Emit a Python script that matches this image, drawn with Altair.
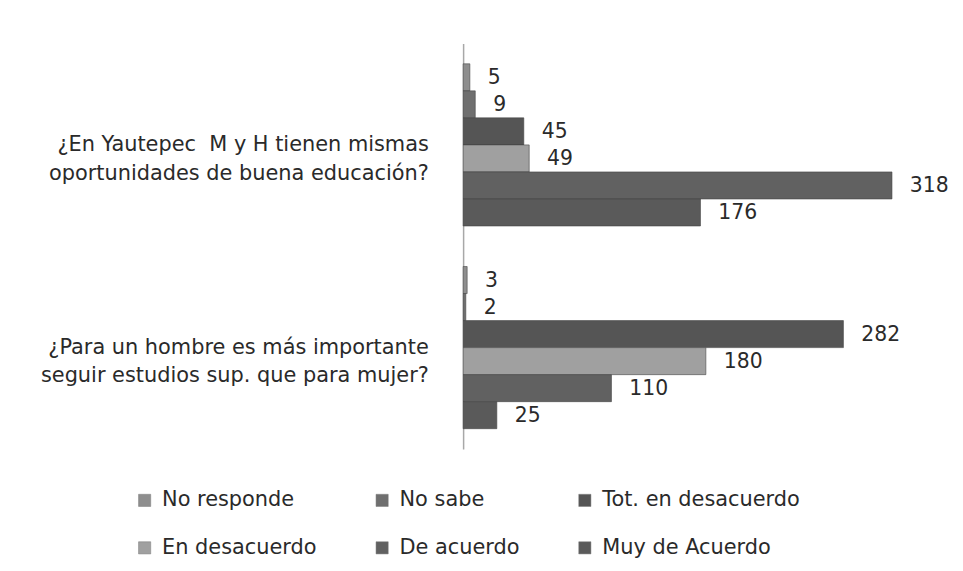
import altair as alt
import pandas as pd

questions = [
    "¿En Yautepec\u00a0 M y H tienen mismas\noportunidades de buena educación?",
    "¿Para un hombre es más importante\nseguir estudios sup. que para mujer?",
]
series = ["No responde", "No sabe", "Tot. en desacuerdo",
          "En desacuerdo", "De acuerdo", "Muy de Acuerdo"]
values_q1 = [5, 9, 45, 49, 318, 176]
values_q2 = [3, 2, 282, 180, 110, 25]
colors = ["#8e8e8e", "#6f6f6f", "#555555", "#a0a0a0", "#616161", "#5a5a5a"]

rows = []
for q, vals in zip(questions, [values_q1, values_q2]):
    for s, v in zip(series, vals):
        rows.append({"pregunta": q, "serie": s, "valor": v})
df = pd.DataFrame(rows)

FONT = "DejaVu Sans"
TXT = "#2a2a2a"

y_enc = alt.Y("pregunta:N", sort=questions,
              scale=alt.Scale(paddingInner=0.2, paddingOuter=0.1),
              axis=alt.Axis(title=None, labelExpr="split(datum.label, '\\n')",
                            labelAlign="right", labelBaseline="middle",
                            labelLineHeight=29, labelPadding=35, labelLimit=0,
                            labelFontSize=21, labelFont=FONT, labelColor=TXT,
                            ticks=False, domainColor="#a8a8a8", domainWidth=1.5,
                            grid=False))
yoff = alt.YOffset("serie:N", sort=series)
x_enc = alt.X("valor:Q", scale=alt.Scale(domain=[0, 350], nice=False), axis=None)

bars = alt.Chart(df).mark_bar(stroke="#454545", strokeWidth=0.6).encode(
    x=x_enc, y=y_enc, yOffset=yoff,
    color=alt.Color("serie:N", sort=series,
                    scale=alt.Scale(domain=series, range=colors),
                    legend=alt.Legend(title=None, orient="none", legendX=-331, legendY=449,
                                      columns=3, direction="horizontal",
                                      columnPadding=55, rowPadding=26,
                                      symbolType="square", symbolSize=150,
                                      symbolStrokeColor="#777", symbolStrokeWidth=0.5,
                                      labelFontSize=21, labelFont=FONT,
                                      labelColor=TXT, labelOffset=7, labelLimit=0)),
)

labels = alt.Chart(df).mark_text(align="left", baseline="middle", dx=18, dy=1,
                                 fontSize=20.5, font=FONT, color=TXT).encode(
    x=x_enc, y=alt.Y("pregunta:N", sort=questions), yOffset=yoff,
    text=alt.Text("valor:Q"),
)

chart = (bars + labels).properties(
    width=475, height=408,
    autosize=alt.AutoSizeParams(type="none"),
    padding={"left": 458, "top": 34, "right": 20, "bottom": 115},
).configure(background="white").configure_view(stroke=None, strokeWidth=0)

chart.save("out.html", embed_options={"renderer": "svg", "actions": False})
